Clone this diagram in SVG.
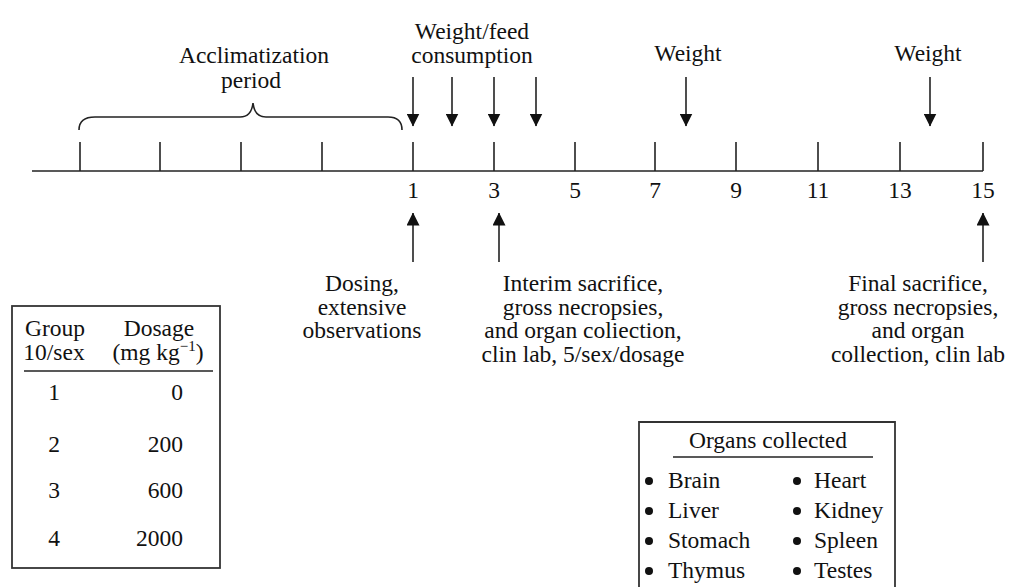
<svg xmlns="http://www.w3.org/2000/svg" width="1013" height="587" viewBox="0 0 1013 587">
  <defs>
    <style>
      text { font-family: "Liberation Serif", "Times New Roman", serif; font-size: 23.5px; fill: #111; }
      .c { text-anchor: middle; }
      .r { text-anchor: end; }
      .ln { stroke: #222; stroke-width: 1.6; fill: none; }
      .box { stroke: #333; stroke-width: 1.8; fill: none; }
      .dot { fill: #111; }
    </style>
    <marker id="head" viewBox="0 0 13 13" refX="12.5" refY="6.5" markerWidth="13" markerHeight="13" markerUnits="userSpaceOnUse" orient="auto">
      <path d="M0,0 L13,6.5 L0,13 Z" fill="#111"/>
    </marker>
  </defs>

  <rect width="1013" height="587" fill="#fff"/>

  <!-- time axis with day ticks -->
  <g id="axis">
    <path class="ln" d="M32,171 H983"/>
    <path class="ln" d="M80,142 V171 M160,142 V171 M241,142 V171 M322,142 V171 M413,142 V171 M494,142 V171 M575,142 V171 M655,142 V171 M736,142 V171 M818,142 V171 M900,142 V171 M983,142 V171"/>
    <text class="c" x="413" y="198">1</text>
    <text class="c" x="494" y="198">3</text>
    <text class="c" x="575" y="198">5</text>
    <text class="c" x="655" y="198">7</text>
    <text class="c" x="736" y="198">9</text>
    <text class="c" x="818" y="198">11</text>
    <text class="c" x="900" y="198">13</text>
    <text class="c" x="983" y="198">15</text>
  </g>

  <!-- acclimatization brace -->
  <g id="acclimatization">
    <path class="ln" d="M79,130 C79,122 83,117 95,117 H240 C248,117 252,112 253,103 C254,112 258,117 266,117 H388 C398,117 402,122 402,130"/>
    <text class="c" x="254" y="63">Acclimatization</text>
    <text class="c" x="251" y="88">period</text>
  </g>

  <!-- event labels -->
  <g id="weight-feed">
    <text class="c" x="472" y="39">Weight/feed</text>
    <text class="c" x="472" y="63">consumption</text>
  </g>
  <g id="weight-1">
    <text class="c" x="688" y="61">Weight</text>
  </g>
  <g id="weight-2">
    <text class="c" x="928" y="61">Weight</text>
  </g>
  <g id="dosing">
    <text class="c" x="362" y="291">Dosing,</text>
    <text class="c" x="362" y="315">extensive</text>
    <text class="c" x="362" y="338">observations</text>
  </g>
  <g id="interim-sacrifice">
    <text class="c" x="583" y="291">Interim sacrifice,</text>
    <text class="c" x="583" y="315">gross necropsies,</text>
    <text class="c" x="583" y="338">and organ coliection,</text>
    <text class="c" x="583" y="362">clin lab, 5/sex/dosage</text>
  </g>
  <g id="final-sacrifice">
    <text class="c" x="918" y="291">Final sacrifice,</text>
    <text class="c" x="918" y="315">gross necropsies,</text>
    <text class="c" x="918" y="338">and organ</text>
    <text class="c" x="918" y="362">collection, clin lab</text>
  </g>

  <!-- arrows onto and from the time axis -->
  <g id="connectors">
    <path class="ln" marker-end="url(#head)" d="M413,77 V126"/>
    <path class="ln" marker-end="url(#head)" d="M452,77 V126"/>
    <path class="ln" marker-end="url(#head)" d="M494,77 V126"/>
    <path class="ln" marker-end="url(#head)" d="M536,77 V126"/>
    <path class="ln" marker-end="url(#head)" d="M686,77 V126"/>
    <path class="ln" marker-end="url(#head)" d="M930,77 V126"/>
    <path class="ln" marker-end="url(#head)" d="M413,262 V213"/>
    <path class="ln" marker-end="url(#head)" d="M499,262 V213"/>
    <path class="ln" marker-end="url(#head)" d="M983,262 V213"/>
  </g>

  <!-- dosage groups table -->
  <g id="dosage-table">
    <rect class="box" x="12" y="306" width="208" height="262"/>
    <text class="c" x="55" y="336">Group</text>
    <text class="c" x="54" y="360">10/sex</text>
    <text class="c" x="159" y="336">Dosage</text>
    <text class="c" x="158" y="360">(mg kg<tspan font-size="15" dy="-9">−1</tspan><tspan dy="9">)</tspan></text>
    <path class="ln" d="M24,371 H213"/>
    <text class="c" x="54" y="400">1</text>
    <text class="r" x="183" y="400">0</text>
    <text class="c" x="54" y="452">2</text>
    <text class="r" x="183" y="452">200</text>
    <text class="c" x="54" y="498">3</text>
    <text class="r" x="183" y="498">600</text>
    <text class="c" x="54" y="546">4</text>
    <text class="r" x="183" y="546">2000</text>
  </g>

  <!-- organs collected list -->
  <g id="organs-collected">
    <path class="box" d="M639,588 V422 H895 V588"/>
    <text class="c" x="768" y="448">Organs collected</text>
    <path class="ln" d="M673,457 H873"/>
    <circle class="dot" cx="649" cy="481" r="4"/>
    <text x="668" y="488">Brain</text>
    <circle class="dot" cx="649" cy="511" r="4"/>
    <text x="668" y="518">Liver</text>
    <circle class="dot" cx="649" cy="541" r="4"/>
    <text x="668" y="548">Stomach</text>
    <circle class="dot" cx="649" cy="571" r="4"/>
    <text x="668" y="578">Thymus</text>
    <circle class="dot" cx="797" cy="481" r="4"/>
    <text x="814" y="488">Heart</text>
    <circle class="dot" cx="797" cy="511" r="4"/>
    <text x="814" y="518">Kidney</text>
    <circle class="dot" cx="797" cy="541" r="4"/>
    <text x="814" y="548">Spleen</text>
    <circle class="dot" cx="797" cy="571" r="4"/>
    <text x="814" y="578">Testes</text>
  </g>
</svg>
